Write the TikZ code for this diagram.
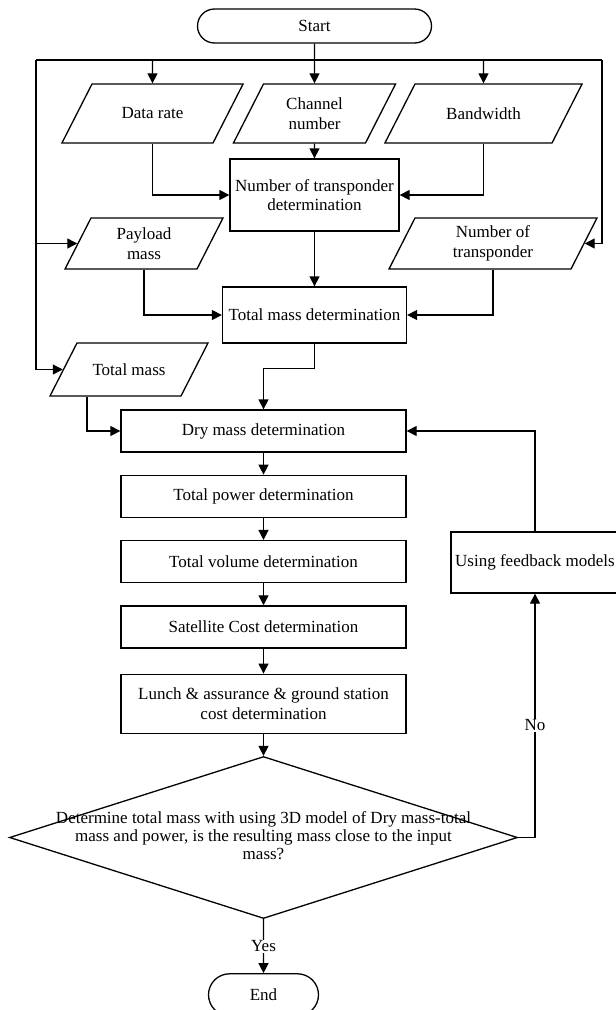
\documentclass[tikz,border=0pt]{standalone}
\usepackage{fontspec}
\setmainfont{Liberation Serif}
\usetikzlibrary{positioning,calc,shapes.geometric,shapes.misc,arrows.meta}
\newcommand{\iotext}[3]{\parbox[c][#2][c]{#1}{\centering #3}}

\begin{document}
\begin{tikzpicture}[x=1pt, y=-1pt,
				font=\fontsize{17}{19.5}\selectfont,
				term/.style={rounded rectangle, draw=black, line width=1.3pt, inner sep=0pt},
				io/.style={trapezium, trapezium left angle=63, trapezium right angle=117, draw=black, line width=1.3pt, inner sep=0pt},
				proc/.style={rectangle, draw=black, line width=1.3pt, inner sep=0pt, align=center},
				flowbox/.style={proc, minimum width=285pt, minimum height=42pt},
				decision/.style={diamond, draw=black, line width=1.3pt, inner sep=0pt, minimum width=508pt, minimum height=162pt},
				wire/.style={line width=1.3pt},
				arr/.style={line width=1.3pt, -{Triangle[length=10pt,width=10pt]}}
			]
			\useasboundingbox (0,0) rectangle (616,1010);
			\node[term, minimum width=234pt, minimum height=34pt] (start) at (314.5,26) {Start};
			\node[io] (datar) at (152.5,113.5) {\iotext{121pt}{59pt}{Data rate}};
			\node[io] (chan) at (314.5,113.5) {\iotext{102pt}{59pt}{Channel\\number}};
			\node[io] (bandw) at (483.5,113.5) {\iotext{137pt}{59pt}{Bandwidth}};
			\node[proc, minimum width=169pt, minimum height=72pt] (ntd) at (314.5,195) {Number of transponder\\determination};
			\node[io] (payload) at (144,243.5) {\iotext{106pt}{51pt}{Payload\\mass}};
			\node[io] (ntrans) at (493,243.5) {\iotext{156pt}{51pt}{Number of\\transponder}};
			\node[proc, minimum width=184pt, minimum height=56pt] (tmd) at (314.5,315) {Total mass determination};
			\node[io] (tmass) at (129,369.5) {\iotext{104pt}{53pt}{Total mass}};
			\node[flowbox] (dry) at (263.5,431) {Dry mass determination};
			\node[flowbox, below=22pt of dry] (power) {Total power determination};
			\node[flowbox, below=22pt of power] (volume) {Total volume determination};
			\node[flowbox, below=22pt of volume] (satcost) {Satellite Cost determination};
			\node[flowbox, minimum height=59pt, below=25pt of satcost] (lunch) {Lunch \& assurance \& ground station\\cost determination};
			\node[decision, below=22pt of lunch] (dec) {\makebox[0pt]{\renewcommand{\arraystretch}{0.92}\begin{tabular}{@{}c@{}}Determine total mass with using 3D model of Dry mass-total\\mass and power, is the resulting mass close to the input\\mass?\end{tabular}}};
			\node[term, minimum width=110pt, minimum height=42pt, below=54pt of dec] (end) {End};
			\node[proc, minimum width=168pt, minimum height=61pt] (fb) at (535,562.5) {Using feedback models};
			\coordinate (busL) at (36,60);
			\coordinate (busR) at (602,60);
			\draw[wire] (busL) -- (busR);
			\draw[arr] (start) -- (chan);
			\draw[arr] (datar.north |- busL) -- (datar);
			\draw[arr] (bandw.north |- busL) -- (bandw);
			\draw[arr] (busL) |- (payload.left side);
			\draw[arr] (busL) |- (tmass.left side);
			\draw[arr] (busR) |- (ntrans.right side);
			\draw[arr] (datar) |- (ntd);
			\draw[arr] (chan) -- (ntd);
			\draw[arr] (bandw) |- (ntd);
			\draw[arr] (ntd) -- (tmd);
			\draw[arr] (payload) |- (tmd);
			\draw[arr] (ntrans) |- (tmd);
			\draw[arr] (tmd.south) -- ++(0,25) -| (dry.north);
			\draw[arr] ($(tmass.bottom left corner)+(38,0)$) |- (dry);
			\foreach \a/\b in {dry/power,power/volume,volume/satcost,satcost/lunch,lunch/dec}
				\draw[arr] (\a) -- (\b);
			\draw[arr] (dec) -- node[fill=white, inner sep=1pt] {Yes} (end);
			\draw[arr] (dec.east) -| node[pos=0.73, fill=white, inner sep=1pt] {No} (fb);
			\draw[arr] (fb) |- (dry);
			\end{tikzpicture}
\end{document}
